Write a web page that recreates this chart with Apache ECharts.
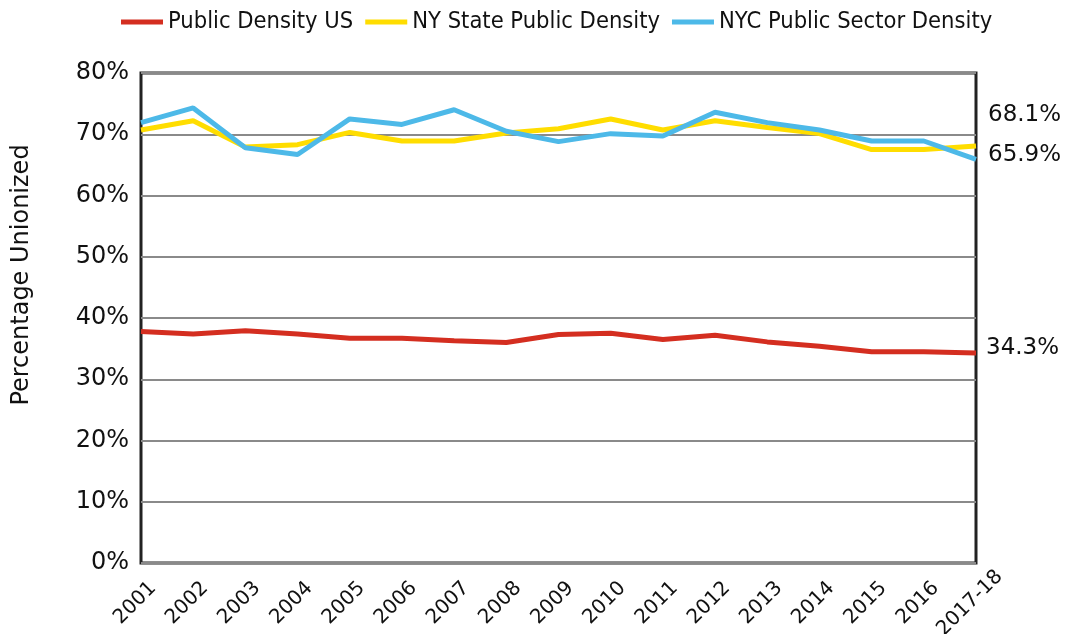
<!DOCTYPE html>
<html>
<head>
<meta charset="utf-8">
<script src="https://cdn.jsdelivr.net/npm/echarts@6/dist/echarts.min.js"></script>
<style>
html,body{margin:0;padding:0;background:#fff;}
#c{width:1071px;height:634px;}
</style>
</head>
<body>
<div id="c"></div>
<script>
const categories = ['2001','2002','2003','2004','2005','2006','2007','2008','2009','2010','2011','2012','2013','2014','2015','2016','2017-18'];
const publicDensityUS = [37.8,37.4,37.9,37.4,36.7,36.7,36.3,36.0,37.3,37.5,36.5,37.2,36.1,35.4,34.5,34.5,34.3];
const nyStateDensity = [70.7,72.2,67.9,68.3,70.3,68.9,68.9,70.2,70.9,72.5,70.7,72.2,71.1,70.1,67.5,67.5,68.1];
const nycDensity = [71.9,74.3,67.8,66.7,72.5,71.6,74.0,70.5,68.8,70.1,69.7,73.6,71.9,70.7,68.9,68.9,65.9];
const seriesNames = ['Public Density US','NY State Public Density','NYC Public Sector Density'];
const endLabels = ['34.3%','68.1%','65.9%'];
const yTicks = [0,10,20,30,40,50,60,70,80];

const chart = echarts.init(document.getElementById('c'), null, {renderer:'canvas'});
const FONT = '"DejaVu Sans", sans-serif';
const LEG_FONT = '"DejaVu Sans Condensed", "Liberation Sans Narrow", sans-serif';
const colors = ['#D42E20','#FFDD00','#4DB9E8'];
const endOffsets = [[2,-5],[4,-31],[4,-4]];
const datas = [publicDensityUS, nyStateDensity, nycDensity];

chart.setOption({
  animation:false,
  color: colors,
  legend:{
    top: 5,
    left: 116,
    itemWidth: 42,
    itemHeight: 5,
    itemGap: 12,
    icon: 'rect',
    textStyle:{fontFamily: LEG_FONT, fontSize: 23.5, color:'#111'},
    data: seriesNames
  },
  grid:{left:141, right:95, top:73, bottom:71, outerBoundsMode:'none', containLabel:false,
    show:true, borderColor:'#222', borderWidth:3, backgroundColor:'transparent'},
  xAxis:{
    type:'category',
    data: categories,
    boundaryGap:false,
    axisLine:{show:false},
    axisTick:{show:false},
    splitLine:{show:false},
    axisLabel:{rotate:45, align:'center', verticalAlign:'middle', padding:[0,17,25,0],
      fontFamily:FONT, fontSize:20, color:'#111', margin:34, interval:0}
  },
  yAxis:{
    type:'value',
    min: yTicks[0], max: yTicks[yTicks.length-1], interval:10,
    axisLine:{show:false},
    axisTick:{show:false},
    splitLine:{show:true, lineStyle:{color:'#8a8a8a', width:2}},
    axisLabel:{formatter:'{value}%', fontFamily:FONT, fontSize:24, color:'#111', margin:12}
  },
  graphic:[{
    type:'text',
    x:22, y:275,
    rotation: Math.PI/2,
    style:{text:'Percentage Unionized', fontFamily:FONT, fontSize:24, fill:'#111', align:'center', verticalAlign:'middle'}
  }],
  series: datas.map((d,i)=>({
    name: seriesNames[i],
    type:'line',
    data: d,
    symbol:'none',
    lineStyle:{width:5, color:colors[i]},
    z: 3+i,
    endLabel:{show:true, formatter: endLabels[i], offset: endOffsets[i], fontFamily:FONT, fontSize:23, color:'#111'}
  }))
});
</script>
</body>
</html>
